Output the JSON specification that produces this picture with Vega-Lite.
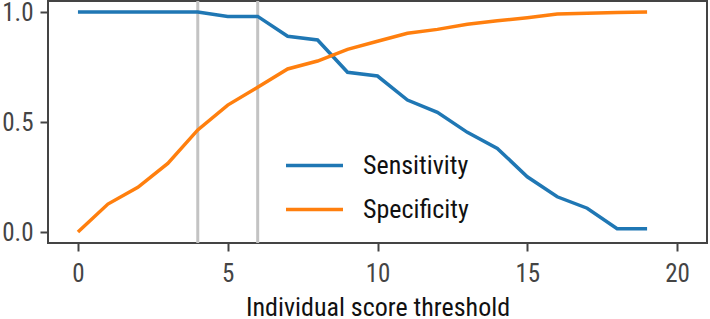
{
  "$schema": "https://vega.github.io/schema/vega-lite/v6.json",
  "width": 659,
  "height": 242,
  "autosize": {"type": "none"},
  "padding": {"left": 48, "top": 1, "right": 3, "bottom": 76},
  "background": "white",
  "config": {
    "view": {"stroke": "#444444", "strokeWidth": 2},
    "font": "Roboto Condensed",
    "axis": {
      "domain": false,
      "grid": false,
      "tickColor": "#444444",
      "tickWidth": 2,
      "tickSize": 8,
      "labelFont": "Roboto Condensed",
      "labelFontSize": 25,
      "labelColor": "#444444",
      "titleFont": "Roboto Condensed",
      "titleFontSize": 26,
      "titleFontWeight": "normal",
      "titleColor": "#111111"
    },
    "legend": {
      "labelFont": "Roboto Condensed",
      "labelFontSize": 26,
      "labelColor": "#111111"
    }
  },
  "datasets": {
    "curves": [
      {"threshold": 0, "metric": "Sensitivity", "value": 1.0},
      {"threshold": 1, "metric": "Sensitivity", "value": 1.0},
      {"threshold": 2, "metric": "Sensitivity", "value": 1.0},
      {"threshold": 3, "metric": "Sensitivity", "value": 1.0},
      {"threshold": 4, "metric": "Sensitivity", "value": 1.0},
      {"threshold": 5, "metric": "Sensitivity", "value": 0.98},
      {"threshold": 6, "metric": "Sensitivity", "value": 0.98},
      {"threshold": 7, "metric": "Sensitivity", "value": 0.89},
      {"threshold": 8, "metric": "Sensitivity", "value": 0.873},
      {"threshold": 9, "metric": "Sensitivity", "value": 0.726},
      {"threshold": 10, "metric": "Sensitivity", "value": 0.709},
      {"threshold": 11, "metric": "Sensitivity", "value": 0.6},
      {"threshold": 12, "metric": "Sensitivity", "value": 0.544},
      {"threshold": 13, "metric": "Sensitivity", "value": 0.453},
      {"threshold": 14, "metric": "Sensitivity", "value": 0.38},
      {"threshold": 15, "metric": "Sensitivity", "value": 0.251},
      {"threshold": 16, "metric": "Sensitivity", "value": 0.16},
      {"threshold": 17, "metric": "Sensitivity", "value": 0.108},
      {"threshold": 18, "metric": "Sensitivity", "value": 0.015},
      {"threshold": 19, "metric": "Sensitivity", "value": 0.015},
      {"threshold": 0, "metric": "Specificity", "value": 0.0},
      {"threshold": 1, "metric": "Specificity", "value": 0.127},
      {"threshold": 2, "metric": "Specificity", "value": 0.203},
      {"threshold": 3, "metric": "Specificity", "value": 0.312},
      {"threshold": 4, "metric": "Specificity", "value": 0.464},
      {"threshold": 5, "metric": "Specificity", "value": 0.577},
      {"threshold": 6, "metric": "Specificity", "value": 0.658},
      {"threshold": 7, "metric": "Specificity", "value": 0.741},
      {"threshold": 8, "metric": "Specificity", "value": 0.777},
      {"threshold": 9, "metric": "Specificity", "value": 0.83},
      {"threshold": 10, "metric": "Specificity", "value": 0.867},
      {"threshold": 11, "metric": "Specificity", "value": 0.903},
      {"threshold": 12, "metric": "Specificity", "value": 0.921},
      {"threshold": 13, "metric": "Specificity", "value": 0.944},
      {"threshold": 14, "metric": "Specificity", "value": 0.96},
      {"threshold": 15, "metric": "Specificity", "value": 0.974},
      {"threshold": 16, "metric": "Specificity", "value": 0.991},
      {"threshold": 17, "metric": "Specificity", "value": 0.994},
      {"threshold": 18, "metric": "Specificity", "value": 0.998},
      {"threshold": 19, "metric": "Specificity", "value": 1.0}
    ],
    "cutoffs": [
      {"threshold": 4},
      {"threshold": 6}
    ]
  },
  "layer": [
    {
      "data": {"name": "cutoffs"},
      "mark": {"type": "rule", "color": "#c3c3c3", "strokeWidth": 3},
      "encoding": {
        "x": {"field": "threshold", "type": "quantitative", "scale": {"domain": [-1, 21]}}
      }
    },
    {
      "data": {"name": "curves"},
      "mark": {"type": "line", "strokeWidth": 3.5},
      "encoding": {
        "x": {
          "field": "threshold", "type": "quantitative",
          "scale": {"domain": [-1, 21], "nice": false, "zero": false},
          "axis": {"values": [0, 5, 10, 15, 20], "title": "Individual score threshold", "labelPadding": 10, "titlePadding": 8}
        },
        "y": {
          "field": "value", "type": "quantitative",
          "scale": {"domain": [-0.05, 1.05], "nice": false, "zero": false},
          "axis": {"values": [0, 0.5, 1], "format": ".1f", "title": null, "labelPadding": 7}
        },
        "color": {
          "field": "metric", "type": "nominal",
          "scale": {"domain": ["Sensitivity", "Specificity"], "range": ["#1f77b4", "#ff7f0e"]},
          "legend": {
            "title": null,
            "orient": "none",
            "legendX": 236,
            "legendY": 134,
            "symbolType": "stroke",
            "symbolSize": 3249,
            "symbolStrokeWidth": 3.5,
            "labelOffset": 18,
            "rowPadding": -25
          }
        }
      }
    }
  ]
}
